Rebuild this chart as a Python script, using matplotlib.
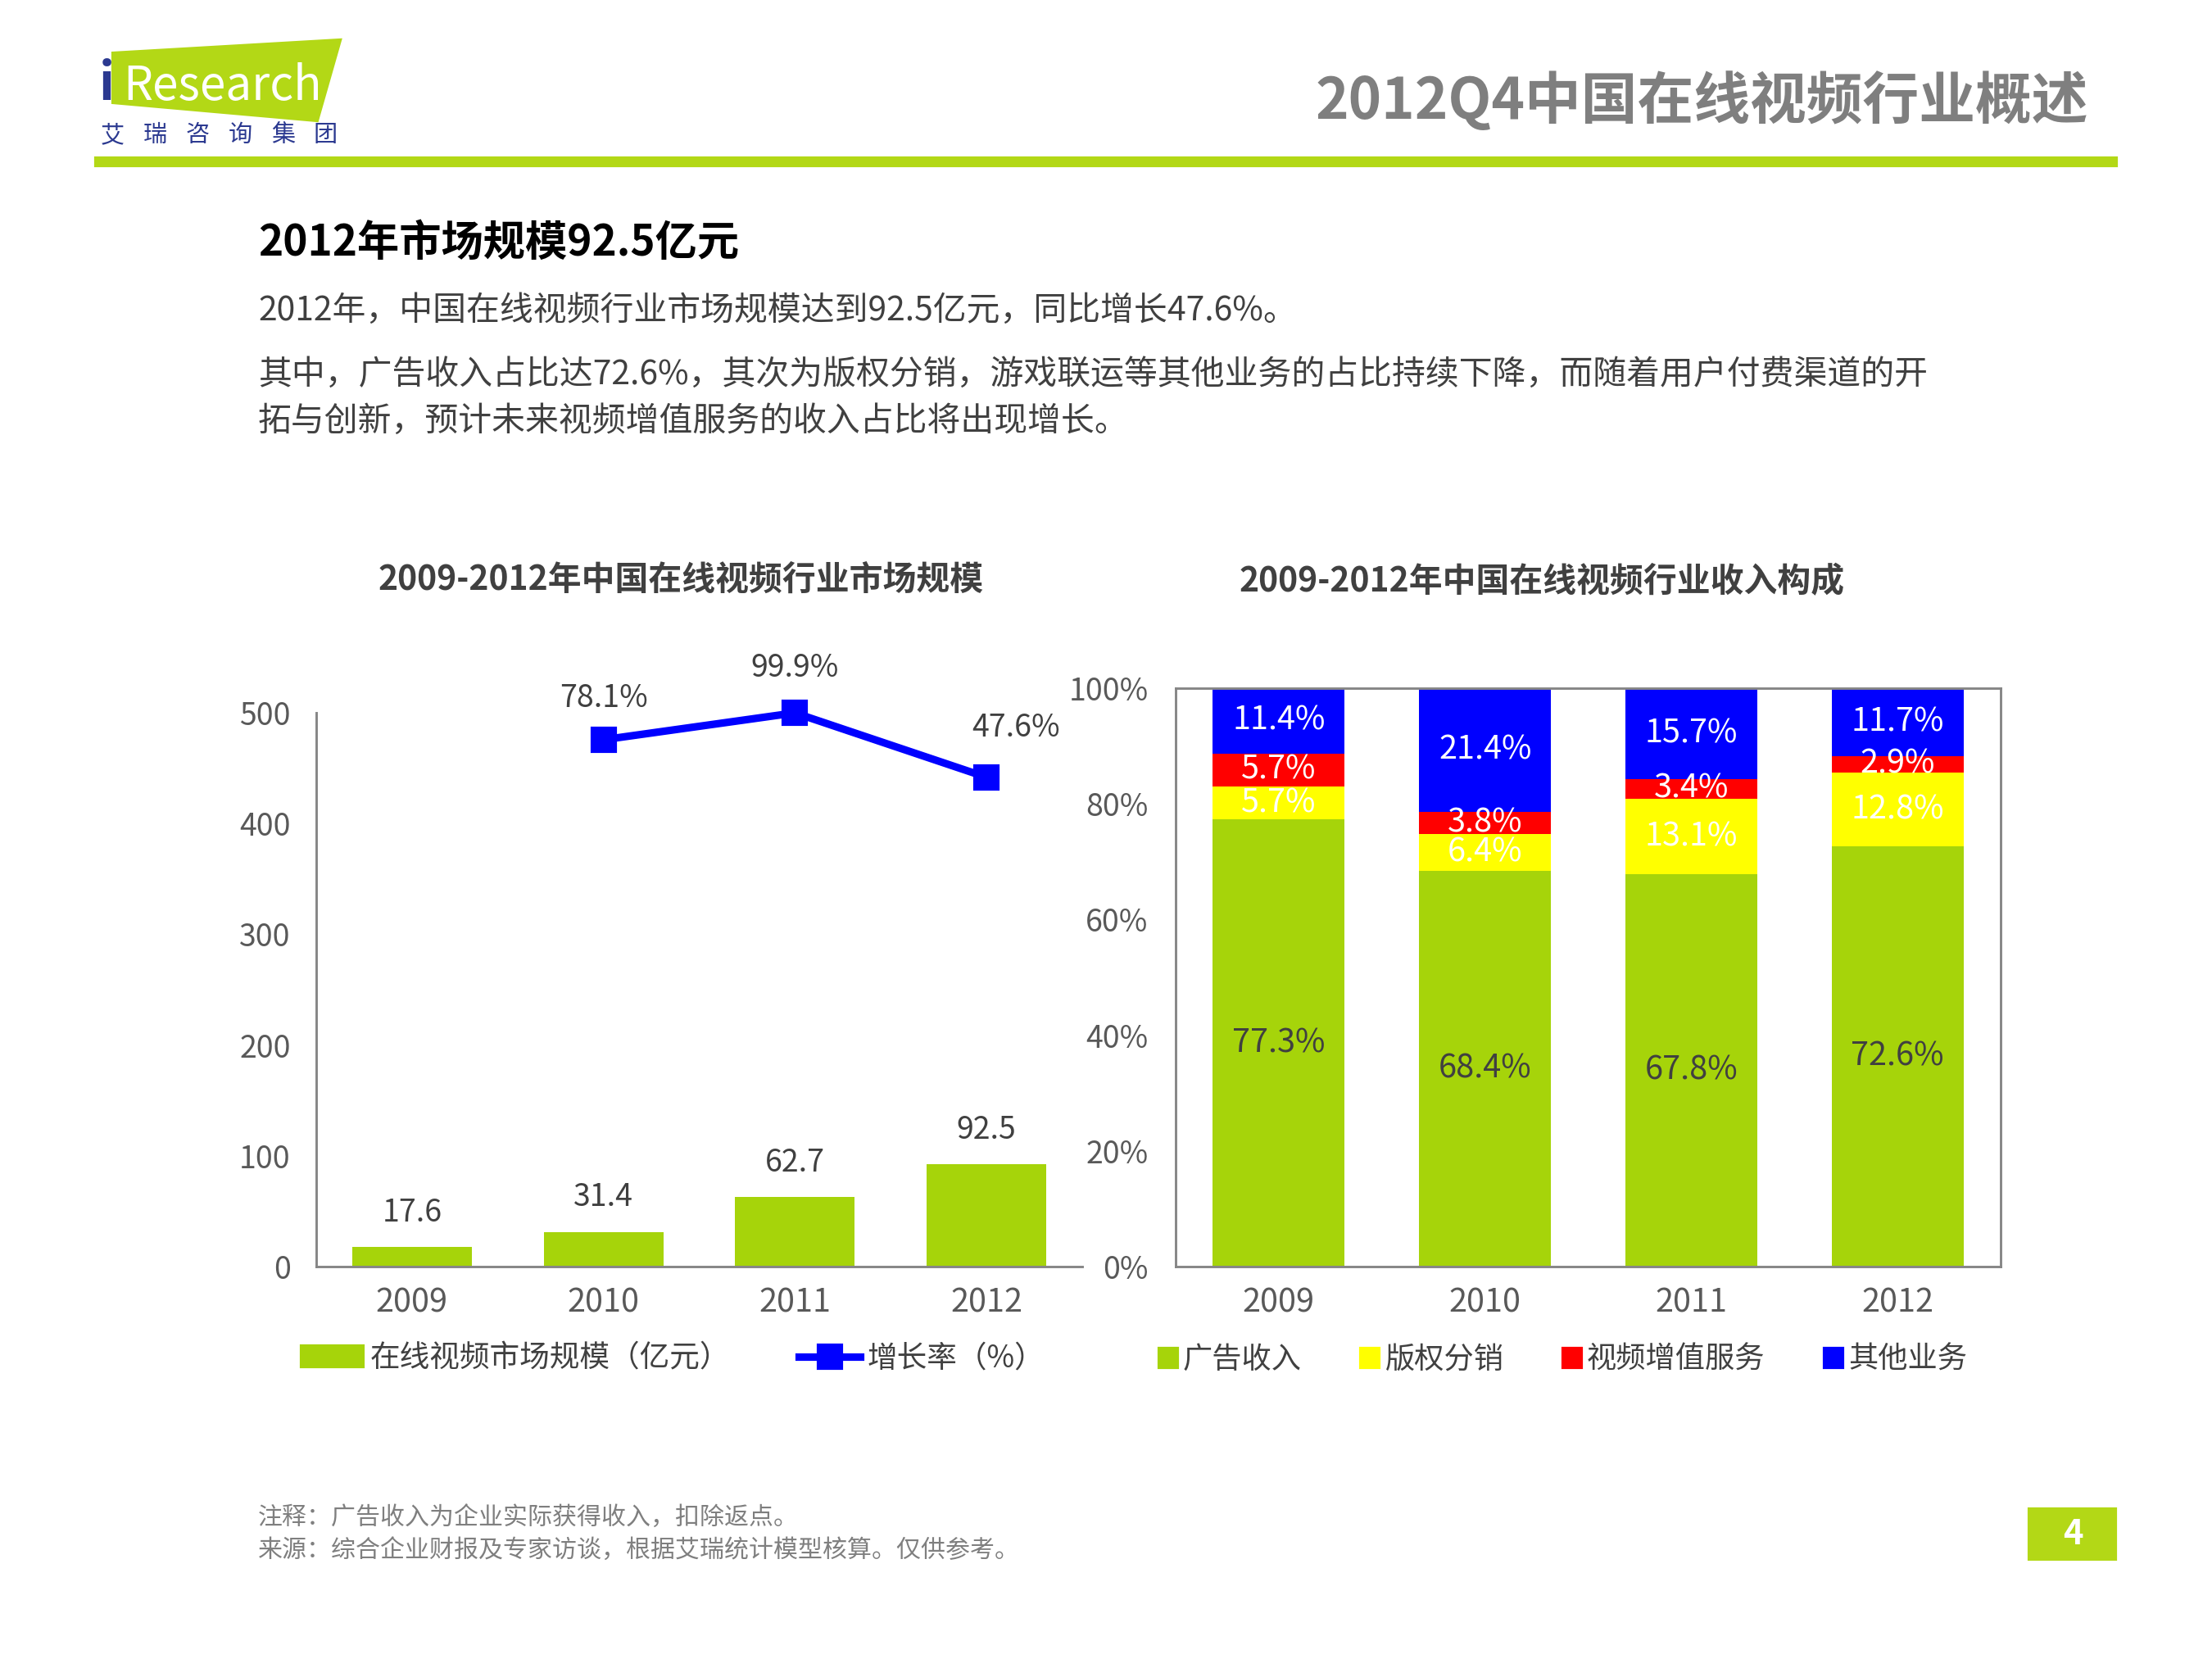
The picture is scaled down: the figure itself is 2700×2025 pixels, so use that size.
import matplotlib
matplotlib.use('Agg')
import matplotlib.pyplot as plt  # noqa: E402
from matplotlib.patches import Polygon, Rectangle, Patch  # noqa: E402
from matplotlib.lines import Line2D  # noqa: E402
import numpy as np  # noqa: E402

plt.rcParams['font.family'] = ['Noto Sans CJK SC', 'DejaVu Sans']

# ---- data ----
years = ['2009', '2010', '2011', '2012']
market_size = [17.6, 31.4, 62.7, 92.5]          # 亿元
growth_years = ['2010', '2011', '2012']
growth_rate = [78.1, 99.9, 47.6]                # %

ad_share = [77.3, 68.4, 67.8, 72.6]             # 广告收入
copyright_share = [5.7, 6.4, 13.1, 12.8]        # 版权分销
vas_share = [5.7, 3.8, 3.4, 2.9]                # 视频增值服务
other_share = [11.4, 21.4, 15.7, 11.7]          # 其他业务
share_names = ['广告收入', '版权分销', '视频增值服务', '其他业务']

GREEN = '#A6D40A'
LIME = '#B3D816'
BLUE = '#0000FF'
YELLOW = '#FFFF00'
RED = '#FF0000'
DARK = '#404040'
GRAY = '#595959'
AXIS = '#868686'

W, H = 2700, 2025
fig = plt.figure(figsize=(9, 6.75), dpi=300)


def fx(px):
  return px / W


def fy(py):
  return 1 - py / H


# ---- header ----
fig.patches.append(Polygon([(fx(138), fy(65)), (fx(415), fy(49)), (fx(387), fy(147)), (fx(138), fy(125))],
                           closed=True, transform=fig.transFigure, color=LIME, zorder=0))
fig.text(fx(121), fy(122), 'i', color='#2B3990', fontsize=15, fontweight='bold', va='baseline')
fig.text(fx(150), fy(122), 'Research', color='white', fontsize=13.6, va='baseline')
for i, ch in enumerate('艾瑞咨询集团'):
  fig.text(fx(123 + i * 52), fy(165), ch, color='#2B3990', fontsize=7, va='center', ha='left')
fig.text(fx(2549), fy(124), '2012Q4中国在线视频行业概述', ha='right', va='center',
         fontsize=16.5, fontweight='bold', color='#7F7F7F')
fig.patches.append(Rectangle((fx(117), fy(202)), fx(2583) - fx(117), 9 / H,
                             transform=fig.transFigure, color=LIME))

fig.text(fx(315), fy(296), '2012年市场规模92.5亿元', fontsize=12.3, fontweight='bold', va='center', color='black')
body = ['2012年，中国在线视频行业市场规模达到92.5亿元，同比增长47.6%。',
        '其中，广告收入占比达72.6%，其次为版权分销，游戏联运等其他业务的占比持续下降，而随着用户付费渠道的开',
        '拓与创新，预计未来视频增值服务的收入占比将出现增长。']
for t, y in zip(body, [379, 457, 514]):
  fig.text(fx(315), fy(y), t, fontsize=9.8, va='center', color=DARK)

# ---- left chart: market size + growth ----
ax1 = fig.add_axes([fx(386), fy(1546), fx(1321) - fx(386), (1546 - 870) / H])
x = np.arange(len(years))
ax1.bar(x, market_size, width=0.625, color=GREEN, zorder=2)
for xi, v in zip(x, market_size):
  ax1.annotate(f'{v}', (xi, v), xytext=(0, 10), textcoords='offset points',
               ha='center', va='center', fontsize=9, color=DARK)
ax1.set_xlim(-0.5, len(years) - 0.5)
ax1.set_ylim(0, 500)
ax1.set_yticks(range(0, 501, 100))
ax1.set_xticks(x)
ax1.set_xticklabels(years)
ax1.tick_params(axis='y', length=0, pad=7.5, labelsize=9, labelcolor=GRAY)
ax1.tick_params(axis='x', length=0, pad=6, labelsize=9.5, labelcolor=GRAY)
for s in ['top', 'right']:
  ax1.spines[s].set_visible(False)
for s in ['left', 'bottom']:
  ax1.spines[s].set_color(AXIS)
  ax1.spines[s].set_linewidth(0.7)

# growth rate sits on a hidden secondary axis (Excel style, -350%..100%)
ax2 = ax1.twinx()
gx = [years.index(y) for y in growth_years]
ax2.plot(gx, growth_rate, color=BLUE, lw=2.2, marker='s', ms=6.5, zorder=3, clip_on=False)
ax2.set_ylim(-350, 100)
ax2.set_axis_off()
for xi, v, off in zip(gx, growth_rate, [(0, 12), (0, 13), (8.6, 14.4)]):
  ax2.annotate(f'{v}%', (xi, v), xytext=off, textcoords='offset points',
               ha='center', va='center', fontsize=9, color=DARK, annotation_clip=False)

fig.text(fx(831), fy(708), '2009-2012年中国在线视频行业市场规模', ha='center', va='center',
         fontsize=9.8, fontweight='bold', color=DARK)
fig.legend([Patch(color=GREEN), Line2D([], [], color=BLUE, lw=2.2, marker='s', ms=6.5)],
           ['在线视频市场规模（亿元）', '增长率（%）'],
           loc='center left', bbox_to_anchor=(fx(368), fy(1658)), ncol=2, frameon=False,
           handlelength=2.05, handleheight=0.65, handletextpad=0.22, columnspacing=2.3,
           fontsize=8.8, borderpad=0, borderaxespad=0, labelcolor=DARK)

# ---- right chart: revenue structure ----
ax3 = fig.add_axes([fx(1435), fy(1546), fx(2442) - fx(1435), (1546 - 840) / H])
layers = [ad_share, copyright_share, vas_share, other_share]
colors = [GREEN, YELLOW, RED, BLUE]
text_colors = [DARK, 'white', 'white', 'white']
bottom = np.zeros(len(years))
for vals, c, tc in zip(layers, colors, text_colors):
  ax3.bar(x, vals, bottom=bottom, width=0.64, color=c, zorder=2)
  for xi, b, v in zip(x, bottom, vals):
    ax3.text(xi, b + v / 2, f'{v}%', ha='center', va='center', fontsize=9.5, color=tc, zorder=3)
  bottom = bottom + np.array(vals)
ax3.set_xlim(-0.5, len(years) - 0.5)
ax3.set_ylim(0, 100)
ax3.set_yticks(range(0, 101, 20))
ax3.set_yticklabels([f'{v}%' for v in range(0, 101, 20)])
ax3.set_xticks(x)
ax3.set_xticklabels(years)
ax3.tick_params(axis='y', length=0, pad=8, labelsize=9, labelcolor=GRAY)
ax3.tick_params(axis='x', length=0, pad=6, labelsize=9.5, labelcolor=GRAY)
for s in ax3.spines.values():
  s.set_color(AXIS)
  s.set_linewidth(0.7)

fig.text(fx(1882), fy(710), '2009-2012年中国在线视频行业收入构成', ha='center', va='center',
         fontsize=9.8, fontweight='bold', color=DARK)
fig.legend([Patch(color=c) for c in colors], share_names,
           loc='center left', bbox_to_anchor=(fx(1415), fy(1660)), ncol=4, frameon=False,
           handlelength=0.6, handleheight=0.6, handletextpad=0.2, columnspacing=2.0,
           fontsize=8.7, borderpad=0, borderaxespad=0, labelcolor=DARK)

# ---- footer ----
fig.text(fx(315), fy(1853), '注释：广告收入为企业实际获得收入，扣除返点。', fontsize=7.2, va='center', color='#7F7F7F')
fig.text(fx(315), fy(1893), '来源：综合企业财报及专家访谈，根据艾瑞统计模型核算。仅供参考。', fontsize=7.2, va='center', color='#7F7F7F')
fig.patches.append(Rectangle((fx(2477), fy(1903)), fx(2582) - fx(2477), (1903 - 1842) / H,
                             transform=fig.transFigure, color=LIME))
fig.text(fx(2530), fy(1873), '4', ha='center', va='center', fontsize=10, fontweight='bold', color='white')

fig.savefig('out.png', dpi=300)
